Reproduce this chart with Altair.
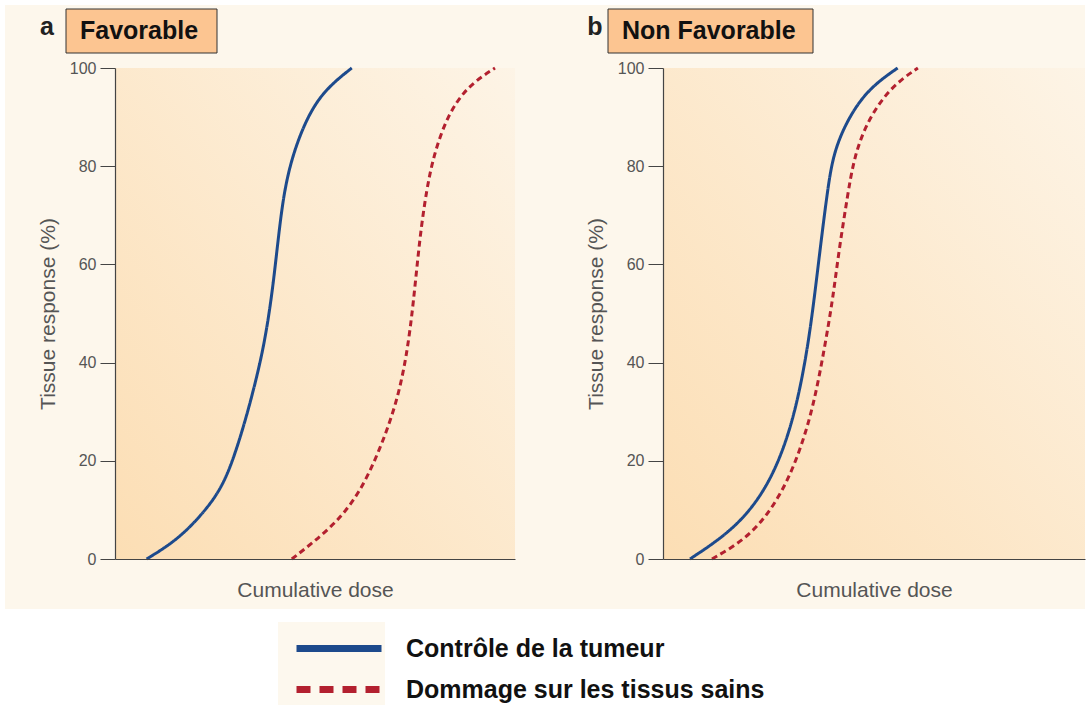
import altair as alt
import pandas as pd

SERIES = ["Contrôle de la tumeur", "Dommage sur les tissus sains"]
COLORS = ["#1d4a8c", "#b3202f"]
DASHES = [[1, 0], [6, 4]]
LEGEND_DASHES = [[1, 0], [14, 9]]

# Panel a (Favorable)
a_tumor_dose = [7.9, 12.9, 17.1, 21.2, 26.0, 29.3, 32.9, 35.9, 37.8, 39.6, 41.2, 42.9, 46.2, 51.2, 59.2]
a_tumor_resp = [0, 2.5, 5.2, 8.6, 13.5, 19.5, 29, 38.5, 46, 56, 68.4, 77.9, 86.7, 94.8, 100]
a_tissue_dose = [44.2, 54.6, 61.2, 66.2, 70.4, 72.9, 74.6, 76.2, 77.9, 79.6, 82.9, 87.9, 95.0]
a_tissue_resp = [0, 6.6, 13.4, 22.2, 31.7, 41.2, 52, 65.6, 75.2, 82, 90, 96.2, 100]

# Panel b (Non Favorable)
b_tumor_dose = [6.4, 16.7, 23.9, 28.6, 31.8, 34.2, 35.8, 37.4, 39.0, 40.5, 44.5, 49.3, 55.6]
b_tumor_resp = [0, 5.9, 13.4, 22.2, 31.7, 42.6, 52.7, 64.3, 75.2, 83.3, 90.8, 96.2, 100]
b_tissue_dose = [11.6, 20.7, 27.9, 32.6, 35.8, 38.2, 40.2, 41.7, 43.7, 45.3, 48.5, 54.0, 60.4]
b_tissue_resp = [0, 4.5, 12.7, 22.2, 31.7, 42.6, 52.7, 62.9, 73.8, 82, 89.4, 96.2, 100]

Y_TICKS = [0, 20, 40, 60, 80, 100]
H = 491
FONT = "Liberation Sans"


def make_df(td, tr, sd, sr):
    rows = []
    for i, (d, r) in enumerate(zip(td, tr)):
        rows.append({"series": SERIES[0], "dose": d, "resp": r, "idx": i})
    for i, (d, r) in enumerate(zip(sd, sr)):
        rows.append({"series": SERIES[1], "dose": d, "resp": r, "idx": i})
    return pd.DataFrame(rows)


one = pd.DataFrame({"k": [0]})

grad = alt.LinearGradient(
    gradient="linear", x1=0, y1=1, x2=1, y2=0,
    stops=[alt.GradientStop(color="#fcdeb4", offset=0),
           alt.GradientStop(color="#fdf4e6", offset=1)],
)

legend = alt.Legend(
    orient="none", legendX=178, legendY=560, title=None,
    symbolType="stroke", symbolSize=7225, symbolStrokeWidth=7,
    labelFont=FONT, labelFontSize=25, labelFontWeight="bold", labelColor="#111111",
    labelOffset=21, labelLimit=700, clipHeight=41, rowPadding=0, padding=0,
)

x_axis = alt.Axis(title="Cumulative dose", ticks=False, labels=False, grid=False,
                  domainColor="#444444", domainWidth=1.2, titleFont=FONT,
                  titleFontSize=21, titleFontWeight="normal", titleColor="#555555",
                  titlePadding=20, zindex=1)
y_axis = alt.Axis(values=Y_TICKS, title="Tissue response (%)", grid=False,
                  tickSize=15, tickColor="#444444", domainColor="#444444",
                  domainWidth=1.2, labelFont=FONT, labelFontSize=16,
                  labelColor="#555555", labelPadding=4, titleFont=FONT,
                  titleFontSize=21, titleFontWeight="normal",
                  titleColor="#555555", titlePadding=11, zindex=1)


def panel(df, width, letter, title, box_x0, box_x1, text_x, letter_x, show_legend, outer):
    layers = []
    if outer:
        layers.append(
            alt.Chart(one).mark_rect(color="#fdf7ec").encode(
                x=alt.value(-110), x2=alt.value(970), y=alt.value(-63), y2=alt.value(541)
            )
        )
        # faint legend swatch box
        layers.append(
            alt.Chart(one).mark_rect(color="#fdf8ee").encode(
                x=alt.value(163), x2=alt.value(270), y=alt.value(554), y2=alt.value(637)
            )
        )
    layers.append(
        alt.Chart(one).mark_rect(color=grad).encode(
            x=alt.value(0), x2=alt.value(width), y=alt.value(0), y2=alt.value(H)
        )
    )
    layers.append(
        alt.Chart(one).mark_rect(color="#fcc591", stroke="#333333", strokeWidth=1).encode(
            x=alt.value(box_x0), x2=alt.value(box_x1), y=alt.value(-59), y2=alt.value(-15)
        )
    )
    layers.append(
        alt.Chart(one).mark_text(
            text=title, font=FONT, fontSize=25, fontWeight="bold", color="#111111",
            align="left", baseline="alphabetic",
        ).encode(x=alt.value(text_x), y=alt.value(-29))
    )
    layers.append(
        alt.Chart(one).mark_text(
            text=letter, font=FONT, fontSize=25, fontWeight="bold", color="#222222",
            align="center", baseline="alphabetic",
        ).encode(x=alt.value(letter_x), y=alt.value(-33))
    )
    lines = alt.Chart(df).mark_line(strokeWidth=3, interpolate="basis").encode(
        x=alt.X("dose:Q", scale=alt.Scale(domain=[0, 100], nice=False, zero=False), axis=x_axis),
        y=alt.Y("resp:Q", scale=alt.Scale(domain=[0, 100], nice=False), axis=y_axis),
        color=alt.Color("series:N", scale=alt.Scale(domain=SERIES, range=COLORS), legend=None),
        strokeDash=alt.StrokeDash("series:N", scale=alt.Scale(domain=SERIES, range=DASHES),
                                  legend=None),
        order=alt.Order("idx:Q"),
    )
    layers.append(lines)
    if show_legend:
        key = alt.Chart(df).transform_filter("false").mark_line(strokeWidth=7).encode(
            x=alt.X("dose:Q", scale=alt.Scale(domain=[0, 100], nice=False, zero=False), axis=x_axis),
            y=alt.Y("resp:Q", scale=alt.Scale(domain=[0, 100], nice=False), axis=y_axis),
            color=alt.Color("series:N", scale=alt.Scale(domain=SERIES, range=COLORS),
                            legend=legend),
            strokeDash=alt.StrokeDash("series:N",
                                      scale=alt.Scale(domain=SERIES, range=LEGEND_DASHES),
                                      legend=legend),
        )
        layers.append(key)
    out = alt.layer(*layers).properties(width=width, height=H)
    if show_legend:
        out = out.resolve_scale(color="independent", strokeDash="independent")
    return out


pa = panel(make_df(a_tumor_dose, a_tumor_resp, a_tissue_dose, a_tissue_resp), 400,
           "a", "Favorable", -49, 102, -35, -68, True, True)
pb = panel(make_df(b_tumor_dose, b_tumor_resp, b_tissue_dose, b_tissue_resp), 422,
           "b", "Non Favorable", -55, 150, -41, -68, False, False)

chart = alt.hconcat(pa, pb, spacing=148, bounds="flush").resolve_scale(
    color="independent", strokeDash="independent"
).properties(
    background="white",
    padding={"left": 5, "top": 5, "right": 4, "bottom": 2},
).configure_view(stroke=None)

chart.save("out.html", embed_options={"renderer": "svg", "actions": False})
